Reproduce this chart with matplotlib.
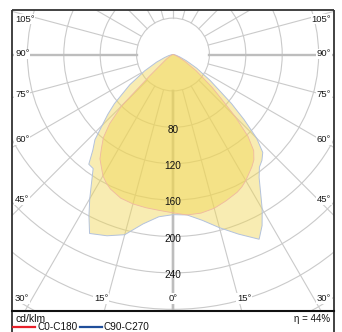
import numpy as np
import matplotlib.pyplot as plt
from matplotlib.patches import Circle, Rectangle, Polygon

plt.rcParams['font.family'] = ['Liberation Sans', 'DejaVu Sans']

# gamma angle from nadir (deg)
gamma = [0, 5, 10, 15, 20, 25, 27.5, 30, 35, 37.5, 40, 42.5, 45, 47.5, 50, 55, 60, 65, 70, 75, 80, 85, 90]
# C0-C180 plane, cd/klm (left half = C180, right half = C0)
c0_left = [174, 172, 171, 170, 168, 163, 159, 154, 140, 129, 119, 103, 80, 35, 18, 9, 4, 2, 1, 0, 0, 0, 0]
c0_right = [174, 177, 177, 175, 171, 167, 164, 160, 151, 146, 138, 122, 97, 72, 56, 31, 15, 7, 3, 1, 0, 0, 0]
# C90-C270 plane, cd/klm
c90_left = [176, 179, 189, 205, 212, 217, 200, 183, 153, 152, 137, 127, 110, 97, 84, 58, 36, 20, 10, 5, 2, 1, 0]
c90_right = [176, 177, 185, 197, 210, 224, 212, 196, 165, 156, 152, 146, 130, 106, 84, 50, 30, 16, 8, 4, 2, 1, 0]

rings = [40, 80, 120, 160, 200, 240, 280, 320, 360]
ring_labels = [80, 120, 160, 200, 240]
side_labels = [105, 90, 75, 60, 45]
bottom_labels = [30, 15, 0, 15, 30]
eta = 44

W, H = 342, 332
s = 0.91            # px per cd/klm
cx, cy = 173, 54.5  # pole position in px


def px(x, y):
    return (x - cx) / s, (cy - y) / s


fig = plt.figure(figsize=(W / 100, H / 100), dpi=100)
ax = fig.add_axes([0, 0, 1, 1])
ax.set_xlim(-cx / s, (W - cx) / s)
ax.set_ylim(-(H - cy) / s, cy / s)
ax.axis('off')

left, top = px(12, 10)
right, sep = px(334, 311)
clip = Rectangle((left, sep), right - left, top - sep, transform=ax.transData)

# grid
for r in rings:
    c = Circle((0, 0), r, fill=False, ec='#cacaca', lw=0.8, zorder=1)
    ax.add_patch(c)
    c.set_clip_path(clip)
rr = np.array([40, 500])
for a in range(0, 181, 15):
    t = np.radians(a)
    for sg in (-1, 1):
        lw = 1.7 if a in (0, 90) else 0.8
        col = '#bdbdbd' if a in (0, 90) else '#cacaca'
        ln, = ax.plot(sg * rr * np.sin(t), -rr * np.cos(t), color=col, lw=lw, zorder=1)
        ln.set_clip_path(clip)


def outline(lv, rv):
    g = np.radians(gamma)
    lv, rv = np.array(lv, float), np.array(rv, float)
    x = np.concatenate([(-lv * np.sin(g))[::-1], rv * np.sin(g)])
    y = np.concatenate([(-lv * np.cos(g))[::-1], -rv * np.cos(g)])
    return np.column_stack([x, y])


fill = (0.94, 0.84, 0.33, 0.45)
ax.add_patch(Polygon(outline(c90_left, c90_right), closed=True, fc=fill,
                     ec='#b3c2dc', lw=0.7, zorder=2))
ax.add_patch(Polygon(outline(c0_left, c0_right), closed=True, fc=fill,
                     ec='#f0b8a0', lw=0.6, zorder=3))

for v in ring_labels:
    ax.text(0, -v - 2.6, str(v), ha='center', va='center', fontsize=7.2,
            color='#111111', zorder=5)

# angle labels on frame
box = dict(fc='white', ec='none', pad=0.6)
side_y = [19, 54, 94.5, 139.5, 199.5]
for lab, y in zip(side_labels, side_y):
    fig.text(15 / W, 1 - y / H, f'{lab}°', ha='left', va='center', fontsize=6.8,
             color='#1a1a1a', bbox=box, zorder=6)
    fig.text(331 / W, 1 - y / H, f'{lab}°', ha='right', va='center', fontsize=6.8,
             color='#1a1a1a', bbox=box, zorder=6)
bottom_x = [21.5, 101, 173, 244, 324]
for lab, x in zip(bottom_labels, bottom_x):
    fig.text(x / W, 1 - 298.5 / H, f'{lab}°', ha='center', va='center', fontsize=6.8,
             color='#1a1a1a', bbox=box, zorder=6)

# frame
fk = dict(color='#333333', lw=1.3, zorder=7, solid_capstyle='butt')
bottom = -(H - cy) / s - 5
ax.plot([left, right], [top, top], **fk)
ax.plot([left, left], [top, bottom], **fk)
ax.plot([right, right], [top, bottom], **fk)
ax.plot([left, right], [sep, sep], color='#111111', lw=1.5, zorder=7)

# legend
fig.text(16 / W, 1 - 319.5 / H, 'cd/klm', ha='left', va='center', fontsize=7.5, color='#111111')
fig.text(330 / W, 1 - 318.5 / H, f'η = {eta}%', ha='right', va='center', fontsize=7, color='#111111')
y_leg = 1 - 327 / H
fig.add_artist(plt.Line2D([13 / W, 35 / W], [y_leg, y_leg], color='#e8202a', lw=1.6))
fig.text(37 / W, y_leg, 'C0-C180', ha='left', va='center', fontsize=7.2, color='#111111')
fig.add_artist(plt.Line2D([80 / W, 102 / W], [y_leg, y_leg], color='#1f4e9a', lw=1.6))
fig.text(104 / W, y_leg, 'C90-C270', ha='left', va='center', fontsize=7.2, color='#111111')

fig.savefig('out.png', dpi=100)
